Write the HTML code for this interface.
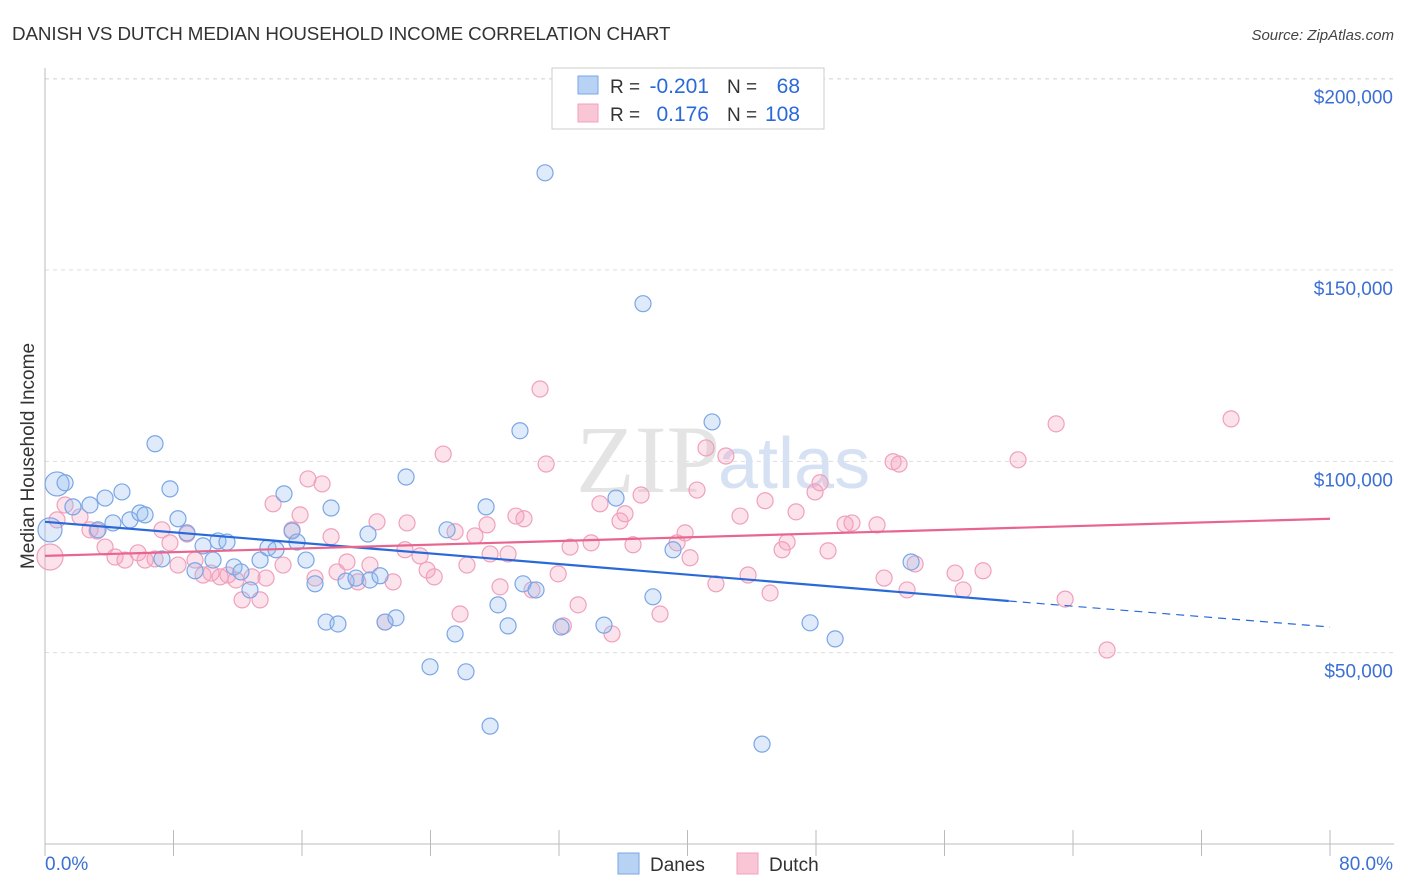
<!DOCTYPE html>
<html><head><meta charset="utf-8"><style>
body{margin:0;background:#fff;font-family:"Liberation Sans",sans-serif}
#wrap{position:relative;width:1406px;height:892px;overflow:hidden}
</style></head><body>
<div id="wrap">
<svg id="chart" width="1406" height="892"></svg>
</div>
<script>
const danesX=[0.75,1.25,1.74,2.80,3.74,4.79,4.23,3.30,5.29,5.91,6.23,6.85,7.78,8.28,7.28,8.84,9.34,9.84,10.46,10.77,11.33,11.77,12.20,12.76,13.39,13.88,14.38,14.88,15.38,15.69,16.25,16.81,17.50,18.24,17.81,18.74,19.36,20.11,20.23,20.86,21.17,21.85,22.48,23.97,25.03,25.53,26.21,27.46,27.71,28.20,28.83,29.57,29.76,30.57,31.13,32.13,34.80,35.55,37.23,37.85,39.10,41.53,44.64,47.63,49.19,53.92,0.31];
const danesY=[94.1,94.4,88.1,88.6,90.4,92.0,83.9,82.1,84.7,86.5,86.0,104.6,92.8,85.0,74.5,81.3,71.4,77.9,74.2,79.2,78.9,72.4,71.1,66.4,74.2,77.4,76.9,91.5,81.8,78.9,74.2,68.0,58.0,57.5,87.8,68.7,69.5,81.0,69.0,70.1,58.0,59.1,95.9,46.3,82.1,54.9,45.0,88.1,30.8,62.5,57.0,108.0,68.0,66.4,175.4,56.7,57.2,90.4,141.2,64.6,76.9,110.3,26.1,57.8,53.6,73.7,82.1];
const dutchX=[0.31,0.75,1.25,2.18,2.80,3.24,3.74,4.36,4.98,5.79,6.23,6.85,7.28,7.78,8.28,8.84,9.34,9.84,10.34,10.90,11.39,11.89,12.27,12.89,13.39,13.76,14.20,14.82,15.38,15.88,16.37,16.81,17.25,17.81,18.18,18.80,19.48,20.23,20.67,21.17,21.67,22.54,22.41,23.35,23.79,24.23,24.79,25.53,25.84,26.27,26.77,27.52,27.71,28.33,28.83,29.32,29.82,30.32,30.82,31.20,31.95,32.27,32.69,33.19,34.00,34.55,35.30,35.80,36.11,36.61,37.11,38.29,39.35,39.85,40.16,40.59,41.15,41.77,42.39,43.27,43.77,44.83,45.14,45.89,46.20,46.76,47.94,48.25,48.75,49.81,50.24,51.80,52.24,52.80,53.17,53.67,54.17,56.66,57.16,58.40,60.58,62.95,63.51,66.12,73.84];
const dutchY=[75.0,84.7,88.6,85.5,82.1,81.8,77.6,75.0,74.2,76.1,74.2,74.5,82.1,78.7,72.9,81.0,74.2,70.3,70.8,69.8,70.3,69.0,63.8,69.8,63.8,69.5,88.9,72.9,82.1,86.0,95.4,69.5,94.1,80.3,71.1,73.7,68.5,72.9,84.2,58.0,68.5,83.9,76.9,75.3,71.6,69.8,101.9,81.6,60.1,72.9,80.5,83.4,75.8,67.2,75.8,85.7,85.0,66.4,118.9,99.3,70.6,57.0,77.6,62.5,78.7,88.9,54.9,84.4,86.3,78.2,91.2,60.1,78.7,81.3,74.8,92.5,103.5,68.0,101.4,85.7,70.3,89.7,65.6,76.9,78.9,86.8,92.0,94.4,76.6,83.6,83.9,83.4,69.5,99.9,99.3,66.4,73.2,70.8,66.4,71.4,100.4,109.8,64.0,50.7,111.1];
const danesTrend=[84.2,63.5,56.7]; // at x=0, 60, 80
const dutchTrend=[75.3,85.0]; // at x=0, 80
const yTicks=[50,100,150,200];
const yTickLabels=["$50,000","$100,000","$150,000","$200,000"];
const xTicks=[0,8,16,24,32,40,48,56,64,72,80];

const NS="http://www.w3.org/2000/svg";
const svg=document.getElementById('chart');
const X=v=>45+v/80*1285;
const Y=v=>844-(v-0)*191.33/50;
function mk(t,a,p){const e=document.createElementNS(NS,t);for(const k in a)e.setAttribute(k,a[k]);(p||svg).appendChild(e);return e;}
function tx(x,y,s,a,p){const e=mk('text',Object.assign({x:x,y:y},a),p);e.textContent=s;return e;}

const title=tx(12,40,"DANISH VS DUTCH MEDIAN HOUSEHOLD INCOME CORRELATION CHART",{'font-size':18.8,fill:'#333','letter-spacing':'-0.1'});


const src=tx(1394,40,"Source: ZipAtlas.com",{'font-size':15,fill:'#444','font-style':'italic','text-anchor':'end'});



yTicks.forEach((v,i)=>{
 const g=mk('line',{x1:45,x2:1394,y1:Y(v),y2:Y(v),stroke:'#ddd','stroke-dasharray':'4,4'});
 
 
 const l=tx(1393,Y(v)+25,yTickLabels[i],{'font-size':19,fill:'#3b6fd4','text-anchor':'end'});
 
 
});
const topg=mk('line',{x1:45,x2:1394,y1:79,y2:79,stroke:'#ddd','stroke-dasharray':'4,4'});


const ax=mk('line',{x1:45,x2:45,y1:68,y2:844,stroke:'#bbb'});


const bx=mk('line',{x1:45,x2:1394,y1:844,y2:844,stroke:'#bbb'});


xTicks.forEach(v=>{
 const t=mk('line',{x1:X(v),x2:X(v),y1:830,y2:856,stroke:'#bbb'});
 
 
});
const x0=tx(45,870,"0.0%",{'font-size':19,fill:'#3b6fd4'});


const x1=tx(1393,870,"80.0%",{'font-size':19,fill:'#3b6fd4','text-anchor':'end'});


const yt=tx(0,0,"Median Household Income",{'font-size':19,fill:'#333','text-anchor':'middle',transform:'translate(34,456) rotate(-90)'});



const wm=tx(720,492,"ZIP",{'font-size':96,fill:'#e4e4e4','text-anchor':'end','font-family':'Liberation Serif'});


const wm2=tx(718,488,"atlas",{'font-size':72,fill:'#d6e2f3'});



dutchX.forEach((v,i)=>{
 const c=mk('circle',{cx:X(v),cy:Y(dutchY[i]),r:i==0?13:8,fill:'rgba(244,160,190,0.3)',stroke:'#f0a0bc','stroke-width':1.2});
 
 
});
danesX.forEach((v,i)=>{
 const big=i==0||i==66;
 const c=mk('circle',{cx:X(v),cy:Y(danesY[i]),r:big?12:8,fill:'rgba(150,190,240,0.3)',stroke:'#7aa6e6','stroke-width':1.2});
 
 
});
const bl=mk('line',{x1:X(0),y1:Y(danesTrend[0]),x2:X(60),y2:Y(danesTrend[1]),stroke:'#2a6ad8','stroke-width':2.2});


const bd=mk('line',{x1:X(60),y1:Y(danesTrend[1]),x2:X(80),y2:Y(danesTrend[2]),stroke:'#2a6ad8','stroke-width':1.2,'stroke-dasharray':'8,6'});


const pl=mk('line',{x1:X(0),y1:Y(dutchTrend[0]),x2:X(80),y2:Y(dutchTrend[1]),stroke:'#e8658f','stroke-width':2.2});



const lg=mk('g',{});


mk('rect',{x:552,y:68,width:272,height:61,fill:'#fff',stroke:'#ccc'},lg);
mk('rect',{x:578,y:76,width:20,height:18,fill:'#b8d2f4',stroke:'#7aa6e6'},lg);
mk('rect',{x:578,y:104,width:20,height:18,fill:'#f9c6d6',stroke:'#f0a0bc'},lg);
tx(610,93,"R =",{'font-size':19,fill:'#333'},lg);
tx(709,93,"-0.201",{'font-size':21,fill:'#2a6ad8','text-anchor':'end'},lg);
tx(727,93,"N =",{'font-size':19,fill:'#333'},lg);
tx(800,93,"68",{'font-size':21,fill:'#2a6ad8','text-anchor':'end'},lg);
tx(610,121,"R =",{'font-size':19,fill:'#333'},lg);
tx(709,121,"0.176",{'font-size':21,fill:'#2a6ad8','text-anchor':'end'},lg);
tx(727,121,"N =",{'font-size':19,fill:'#333'},lg);
tx(800,121,"108",{'font-size':21,fill:'#2a6ad8','text-anchor':'end'},lg);

const bl1=mk('g',{});


mk('rect',{x:618,y:853,width:21,height:21,fill:'#b8d2f4',stroke:'#7aa6e6'},bl1);
tx(650,871,"Danes",{'font-size':19,fill:'#333'},bl1);
const bl2=mk('g',{});


mk('rect',{x:737,y:853,width:21,height:21,fill:'#f9c6d6',stroke:'#f0a0bc'},bl2);
tx(769,871,"Dutch",{'font-size':19,fill:'#333'},bl2);
</script>
</body></html>
